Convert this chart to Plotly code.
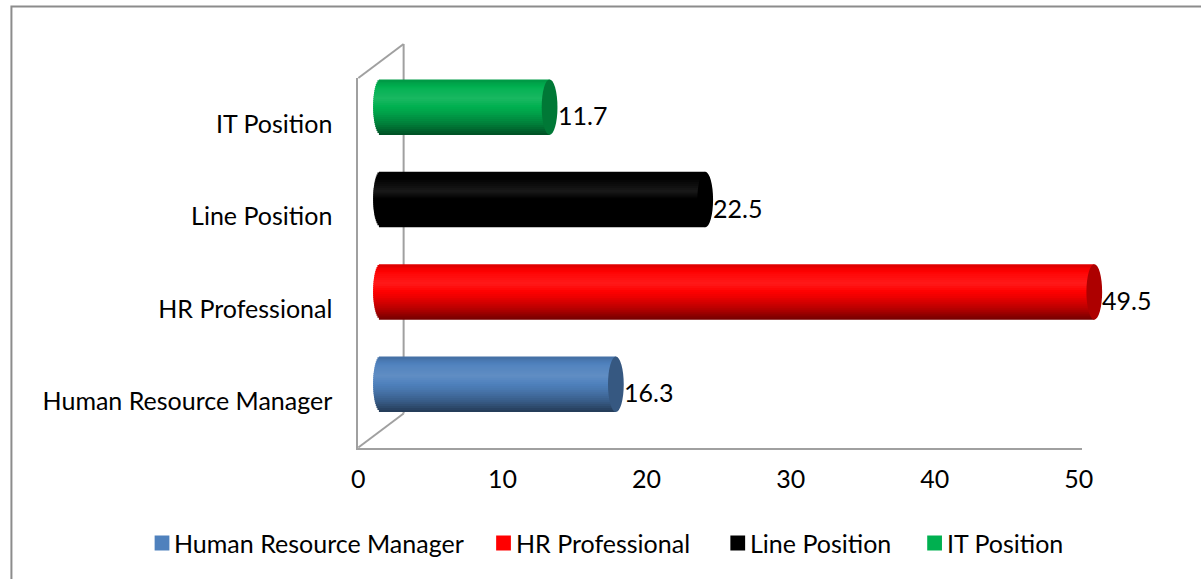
import numpy as np
import plotly.graph_objects as go

# ---- data -------------------------------------------------------------
categories = ["Human Resource Manager", "HR Professional", "Line Position", "IT Position"]
values = [16.3, 49.5, 22.5, 11.7]
colors = ["#4F81BD", "#FF0000", "#000000", "#00B050"]
x_ticks = [0, 10, 20, 30, 40, 50]

# ---- geometry (pixels) ------------------------------------------------
W, H = 1201, 579
FONT = "Lato"
FS = 25
AXIS_GREY = "#A0A0A0"

front_left, front_right = 357, 1092      # front face of the 3-D box
front_top, front_bottom = 78, 447.5
depth_dx, depth_dy = 46, 34              # shift from front face to back wall
x_max = 50.2
px_per_unit = (front_right - front_left) / x_max
cat_px = (front_bottom - front_top) / len(categories)

half_bar = 0.3                           # half thickness of each cylinder (category units)
cap_px = 8                               # half width of the elliptical end caps
cap = cap_px / px_per_unit
x2_min = -1.0                            # room for the rounded left ends


def px_x(p):
    return p / W


def px_y(p):
    return 1 - p / H


def shade(hex_color, f):
    r, g, b = (int(hex_color[i:i + 2], 16) for i in (1, 3, 5))
    if f <= 1:
        r, g, b = r * f, g * f, b * f
    else:
        m = f - 1
        r, g, b = r + (255 - r) * m, g + (255 - g) * m, b + (255 - b) * m
    return f"rgb({int(round(r))},{int(round(g))},{int(round(b))})"


# lighting profile across the cylinder, bottom (-1) to top (+1)
prof_t = [-1.0, -0.6, -0.2, 0.3, 0.7, 1.0]
prof_f = [0.45, 0.72, 0.92, 1.10, 1.02, 0.86]

fig = go.Figure()

pos = list(range(len(categories)))
n_bands = 28
band_w = 2 * half_bar / n_bands
overlap = 1.3 / cat_px                   # ~1 px overlap hides anti-aliasing seams
for k in range(n_bands):
    rel = -half_bar + (k + 0.5) * band_w
    t = rel / half_bar
    bulge = cap * np.sqrt(max(0.0, 1 - t * t))
    f = float(np.interp(t, prof_t, prof_f))
    fig.add_trace(go.Bar(
        orientation="h",
        y=pos,
        x=[v + bulge for v in values],
        base=[-bulge] * len(values),
        offset=-half_bar + k * band_w,
        width=band_w + (overlap if k < n_bands - 1 else 0),
        marker=dict(color=[shade(c, f) for c in colors], line=dict(width=0)),
        xaxis="x2", yaxis="y2",
        showlegend=False, hoverinfo="skip",
    ))

# placeholder trace so the front axes exist
fig.add_trace(go.Scatter(x=[None], y=[None], xaxis="x", yaxis="y",
                         showlegend=False, hoverinfo="skip"))

shapes = []
annotations = []

# end caps and value labels
for i, (v, c) in enumerate(zip(values, colors)):
    shapes.append(dict(type="circle", xref="x2", yref="y2",
                       x0=v - cap, x1=v + cap, y0=i - half_bar, y1=i + half_bar,
                       fillcolor=shade(c, 0.68), line=dict(width=0), layer="above"))
    annotations.append(dict(x=v, y=i, xref="x2", yref="y2", text=f"{v}",
                            showarrow=False, xanchor="left", yanchor="middle",
                            xshift=cap_px - 2, yshift=-8,
                            font=dict(family=FONT, size=FS, color="#000000")))

# back wall and floor edges of the 3-D box
bx, by_top, by_bot = front_left + depth_dx, front_top - depth_dy, front_bottom - depth_dy
for (xa, ya, xb, yb) in [
    (bx, by_top, bx, by_bot),
    (front_left, front_top, bx, by_top),
    (front_left, front_bottom, bx, by_bot),
]:
    shapes.append(dict(type="line", xref="paper", yref="paper",
                       x0=px_x(xa), y0=px_y(ya), x1=px_x(xb), y1=px_y(yb),
                       line=dict(color=AXIS_GREY, width=2), layer="below"))

# chart frame
shapes.append(dict(type="rect", xref="paper", yref="paper",
                   x0=px_x(4.5), x1=1.05, y0=-0.05, y1=px_y(6.5),
                   line=dict(color="#8C8C8C", width=2), fillcolor="rgba(0,0,0,0)",
                   layer="below"))

# legend row
legend_x = [150, 497, 735, 935]
legend_y = 543
sw = 15
for lx, name, c in zip(legend_x, categories, colors):
    shapes.append(dict(type="rect", xref="paper", yref="paper",
                       x0=px_x(lx), x1=px_x(lx + sw),
                       y0=px_y(legend_y + sw / 2), y1=px_y(legend_y - sw / 2),
                       fillcolor=c, line=dict(width=0)))
    annotations.append(dict(x=px_x(lx + sw + 3), y=px_y(legend_y), xref="paper", yref="paper",
                            text=name, showarrow=False, xanchor="left", yanchor="middle",
                            font=dict(family=FONT, size=FS, color="#000000")))

xd = [px_x(front_left), px_x(front_right)]
yd = [px_y(front_bottom), px_y(front_top)]
x2_left = front_left + depth_dx / 2 + x2_min * px_per_unit
xd2 = [px_x(x2_left), px_x(front_right + depth_dx / 2)]
yd2 = [px_y(front_bottom - depth_dy / 2), px_y(front_top - depth_dy / 2)]

fig.update_layout(
    width=W, height=H,
    margin=dict(l=0, r=0, t=0, b=0),
    paper_bgcolor="white", plot_bgcolor="rgba(0,0,0,0)",
    barmode="overlay",
    showlegend=False,
    font=dict(family=FONT, size=FS, color="#000000"),
    xaxis=dict(domain=xd, range=[0, x_max], tickvals=x_ticks, ticktext=[str(t) for t in x_ticks],
               showline=True, linecolor=AXIS_GREY, linewidth=2, showgrid=False, zeroline=False,
               ticks="", ticklabelstandoff=8, anchor="y",
               tickfont=dict(family=FONT, size=FS, color="#000000")),
    yaxis=dict(domain=yd, range=[-0.5, len(categories) - 0.5], tickvals=pos, ticktext=categories,
               showline=True, linecolor=AXIS_GREY, linewidth=2, showgrid=False, zeroline=False,
               ticks="", ticklabelstandoff=19, anchor="x",
               tickfont=dict(family=FONT, size=FS, color="#000000")),
    xaxis2=dict(domain=xd2, range=[x2_min, x_max], visible=False, anchor="y2"),
    yaxis2=dict(domain=yd2, range=[-0.5, len(categories) - 0.5], visible=False, anchor="x2"),
    shapes=shapes,
    annotations=annotations,
)

fig.write_html("out.html")
